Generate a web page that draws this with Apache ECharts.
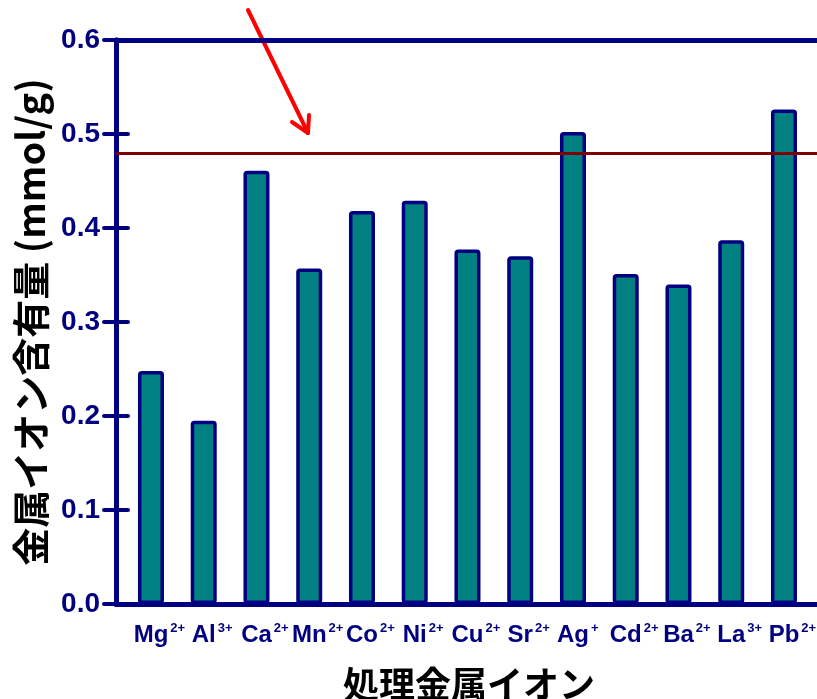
<!DOCTYPE html>
<html>
<head>
<meta charset="utf-8">
<script src="https://cdn.jsdelivr.net/npm/echarts@6/dist/echarts.min.js"></script>
<style>
  html, body { margin: 0; padding: 0; background: #fff; }
  #chart { width: 817px; height: 699px; }
</style>
</head>
<body>
<div id="chart"></div>
<script>
// Metal ions used in the treatment and their charges (shown as superscripts)
const ions = ['Mg', 'Al', 'Ca', 'Mn', 'Co', 'Ni', 'Cu', 'Sr', 'Ag', 'Cd', 'Ba', 'La', 'Pb'];
const charges = ['2+', '3+', '2+', '2+', '2+', '2+', '2+', '2+', '+', '2+', '2+', '3+', '2+'];
// Metal ion content (mmol/g)
const content = [0.248, 0.195, 0.461, 0.357, 0.418, 0.429, 0.377, 0.370, 0.502, 0.351, 0.340, 0.387, 0.526];
// Reference level
const refLevel = [0.48];
// Y axis range and tick step
const yMin = 0, yMax = 0.6, yStep = 0.1;

const NAVY = '#000080';
const TEAL = '#008080';
const DARKRED = '#800000';
const LATIN = '"Liberation Sans", Arial, sans-serif';
const CJK = '"Noto Sans CJK JP", "Noto Sans", sans-serif';

const chart = echarts.init(document.getElementById('chart'), null, { renderer: 'canvas' });

const supStyle = {
  fontSize: 13, fontWeight: 'bold', fontFamily: LATIN, color: NAVY,
  verticalAlign: 'top', lineHeight: 13, padding: [0, 0, 0, 2]
};

const option = {
  backgroundColor: '#ffffff',
  animation: false,
  grid: [
    // frame grid: box, value ticks, axis names
    { left: 116, top: 40, width: 706, height: 564, outerBoundsMode: 'none', containLabel: false },
    // bar grid: category bands
    { left: 124.6, top: 40, width: 685.75, height: 564, outerBoundsMode: 'none', containLabel: false }
  ],
  xAxis: [
    {
      gridIndex: 0, type: 'value', position: 'bottom', min: 0, max: 1,
      axisLine: { show: true, onZero: false, lineStyle: { color: NAVY, width: 5 } },
      axisTick: { show: false }, axisLabel: { show: false }, splitLine: { show: false },
      name: '処理金属イオン', nameLocation: 'middle', nameGap: 62,
      nameTextStyle: { fontSize: 36, fontWeight: 'bold', color: '#000', fontFamily: CJK }
    },
    {
      gridIndex: 0, type: 'value', position: 'top', min: 0, max: 1,
      axisLine: { show: true, onZero: false, lineStyle: { color: NAVY, width: 5 } },
      axisTick: { show: false }, axisLabel: { show: false }, splitLine: { show: false }
    },
    {
      gridIndex: 1, type: 'category', data: ions, boundaryGap: true,
      axisLine: { show: false }, axisTick: { show: false },
      axisLabel: {
        interval: 0, margin: 18,
        formatter: (v, i) => `{g|${charges[i]}}{b|${v}}{s|${charges[i]}}`,
        rich: {
          b: { fontSize: 24, fontWeight: 'bold', fontFamily: LATIN, color: NAVY, lineHeight: 26 },
          s: supStyle,
          g: Object.assign({}, supStyle, { color: 'rgba(0,0,0,0)', padding: [0, 2, 0, 0] })
        }
      }
    }
  ],
  yAxis: [
    {
      gridIndex: 0, type: 'value', position: 'left', min: yMin, max: yMax, interval: yStep,
      axisLine: { show: true, lineStyle: { color: NAVY, width: 5 } },
      axisTick: { show: true, inside: true, length: 12, lineStyle: { color: NAVY, width: 4, cap: 'round' } },
      axisLabel: {
        margin: 16, color: NAVY, fontSize: 28, fontWeight: 'bold', fontFamily: LATIN,
        formatter: v => v.toFixed(1)
      },
      splitLine: { show: false },
      name: '金属イオン含有量 (mmol/g)', nameLocation: 'middle', nameGap: 66,
      nameTextStyle: { fontSize: 38, fontWeight: 'bold', color: '#000', fontFamily: CJK }
    },
    {
      gridIndex: 0, type: 'value', position: 'right', min: yMin, max: yMax, interval: yStep,
      axisLine: { show: true, lineStyle: { color: NAVY, width: 5 } },
      axisTick: { show: true, inside: true, length: 12, lineStyle: { color: NAVY, width: 4, cap: 'round' } },
      axisLabel: { show: false }, splitLine: { show: false }
    },
    {
      gridIndex: 1, type: 'value', min: yMin, max: yMax, show: false
    }
  ],
  series: [
    {
      // reference level line across the frame
      type: 'line', xAxisIndex: 0, yAxisIndex: 0, data: [], z: 1,
      markLine: {
        silent: true, symbol: ['none', 'none'], label: { show: false },
        lineStyle: { color: DARKRED, width: 3, type: 'solid' },
        data: refLevel.map(v => ({ yAxis: v }))
      }
    },
    {
      type: 'bar', xAxisIndex: 2, yAxisIndex: 2, data: content, z: 3,
      barWidth: 26,
      itemStyle: { color: TEAL, borderColor: NAVY, borderWidth: 3.5, borderRadius: 2 }
    }
  ],
  graphic: [
    {
      type: 'group', z: 100,
      children: [
        { type: 'line', shape: { x1: 248, y1: 10, x2: 308, y2: 133 },
          style: { stroke: '#ff0000', lineWidth: 4, lineCap: 'round' } },
        { type: 'polyline', shape: { points: [[292, 122], [308, 133], [309, 115]] },
          style: { stroke: '#ff0000', lineWidth: 4, lineCap: 'round', lineJoin: 'round', fill: null } }
      ]
    }
  ]
};

chart.setOption(option);
</script>
</body>
</html>
